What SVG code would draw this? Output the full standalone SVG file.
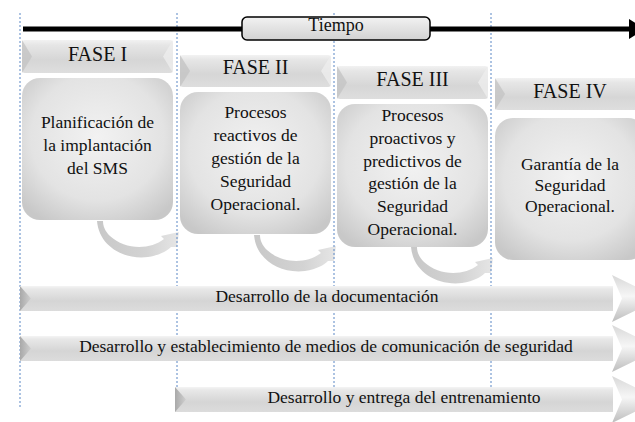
<svg xmlns="http://www.w3.org/2000/svg" width="635" height="422" viewBox="0 0 635 422" font-family="'Liberation Serif', 'DejaVu Serif', serif">
<defs>
<style>
text{font-family:'Liberation Serif','DejaVu Serif',serif;fill:#111;text-anchor:middle}
.h{font-size:20px}
.c{font-size:17.5px}
.b{font-size:17.5px}
.dash{stroke:#5b87c5;stroke-width:1;stroke-dasharray:2,2;fill:none}
.box{fill:url(#boxG)}
.hdr{fill:url(#hdrG)}
.bar{fill:url(#barG)}
.notch{fill:url(#notchG)}
.head{fill:url(#headG)}
.arc{fill:url(#arcG)}
</style>
<radialGradient id="boxG" cx="50%" cy="42%" r="68%">
<stop offset="0" stop-color="#f2f2f2"/>
<stop offset="0.65" stop-color="#e3e3e3"/>
<stop offset="1" stop-color="#c8c8c8"/>
</radialGradient>
<linearGradient id="hdrG" x1="0" y1="0" x2="0" y2="1">
<stop offset="0" stop-color="#f2f2f2"/>
<stop offset="0.15" stop-color="#e6e6e6"/>
<stop offset="0.6" stop-color="#d6d6d6"/>
<stop offset="1" stop-color="#dedede"/>
</linearGradient>
<linearGradient id="barG" x1="0" y1="0" x2="0" y2="1">
<stop offset="0" stop-color="#f4f4f4"/>
<stop offset="0.12" stop-color="#e8e8e8"/>
<stop offset="0.6" stop-color="#d5d5d5"/>
<stop offset="1" stop-color="#dcdcdc"/>
</linearGradient>
<linearGradient id="notchG" x1="0" y1="0" x2="1" y2="0">
<stop offset="0" stop-color="#a9a9a9"/>
<stop offset="1" stop-color="#cfcfcf"/>
</linearGradient>
<linearGradient id="headG" x1="0" y1="0" x2="0" y2="1">
<stop offset="0" stop-color="#d8d8d8"/>
<stop offset="0.45" stop-color="#f6f6f6"/>
<stop offset="1" stop-color="#bdbdbd"/>
</linearGradient>
<linearGradient id="tiempoG" x1="0" y1="0" x2="0" y2="1">
<stop offset="0" stop-color="#f2f2f2"/>
<stop offset="1" stop-color="#d2d2d2"/>
</linearGradient>
<linearGradient id="arcG" x1="0" y1="0" x2="1" y2="0">
<stop offset="0" stop-color="#c8c8c8"/>
<stop offset="0.6" stop-color="#d3d3d3"/>
<stop offset="1" stop-color="#e6e6e6"/>
</linearGradient>
<path id="curve" d="M97,221 C99,245 122,260 148,257 C160,255 167,251 171,247 L177,247 L179,232 L161,236 L164,239 C150,250 125,250 110,236 C105,231 103,226 103,221 Z"/>
</defs>

<g id="connectors">
<use href="#curve" class="arc"/>
<use href="#curve" class="arc" transform="translate(157,14)"/>
<use href="#curve" class="arc" transform="translate(314,26)"/>
</g>

<g id="guides">
<line class="dash" x1="20" y1="13" x2="20" y2="409"/>
<line class="dash" x1="177" y1="13" x2="177" y2="409"/>
<line class="dash" x1="334" y1="13" x2="334" y2="409"/>
<line class="dash" x1="491" y1="13" x2="491" y2="409"/>
</g>

<g id="timeline">
<line x1="23" y1="29" x2="632" y2="29" stroke="#000" stroke-width="5"/>
<polygon points="629,19 645,29 629,39" fill="#000"/>
<rect x="242" y="17" width="188" height="23" rx="5" fill="url(#tiempoG)" stroke="#000" stroke-width="1.5"/>
<text x="336" y="31" font-size="18">Tiempo</text>
</g>

<g id="fase1">
<rect class="hdr" x="22" y="40" width="151" height="33" rx="3"/>
<polygon points="22,40 32,56.5 22,73" fill="#c4c4c4" opacity="0.8"/>
<polygon points="173,40 163,56.5 173,73" fill="#ededed" opacity="0.8"/>
<text class="h" x="97.5" y="61">FASE I</text>
<rect class="box" x="22" y="78" width="151" height="142" rx="18"/>
<text class="c" x="97.5" y="128">Planificación de</text>
<text class="c" x="97.5" y="151">la implantación</text>
<text class="c" x="97.5" y="174">del SMS</text>
</g>

<g id="fase2">
<rect class="hdr" x="180" y="55" width="151" height="32" rx="3"/>
<polygon points="180,55 190,71 180,87" fill="#c4c4c4" opacity="0.8"/>
<polygon points="331,55 321,71 331,87" fill="#ededed" opacity="0.8"/>
<text class="h" x="255.5" y="74">FASE II</text>
<rect class="box" x="180" y="92" width="151" height="142" rx="18"/>
<text class="c" x="255.5" y="118">Procesos</text>
<text class="c" x="255.5" y="141">reactivos de</text>
<text class="c" x="255.5" y="164">gestión de la</text>
<text class="c" x="255.5" y="187">Seguridad</text>
<text class="c" x="255.5" y="210">Operacional.</text>
</g>

<g id="fase3">
<rect class="hdr" x="337" y="66" width="151" height="33" rx="3"/>
<polygon points="337,66 347,82.5 337,99" fill="#c4c4c4" opacity="0.8"/>
<polygon points="488,66 478,82.5 488,99" fill="#ededed" opacity="0.8"/>
<text class="h" x="412.5" y="86">FASE III</text>
<rect class="box" x="337" y="104" width="151" height="143" rx="18"/>
<text class="c" x="412.5" y="121">Procesos</text>
<text class="c" x="412.5" y="144">proactivos y</text>
<text class="c" x="412.5" y="166.5">predictivos de</text>
<text class="c" x="412.5" y="189">gestión de la</text>
<text class="c" x="412.5" y="212">Seguridad</text>
<text class="c" x="412.5" y="235">Operacional.</text>
</g>

<g id="fase4">
<rect class="hdr" x="495" y="78" width="151" height="32" rx="3"/>
<polygon points="495,78 505,94 495,110" fill="#c4c4c4" opacity="0.8"/>
<text class="h" x="570" y="98">FASE IV</text>
<rect class="box" x="495" y="118" width="151" height="142" rx="18"/>
<text class="c" x="570" y="170">Garantía de la</text>
<text class="c" x="570" y="191">Seguridad</text>
<text class="c" x="570" y="212">Operacional.</text>
</g>

<g id="bar-documentacion">
<rect class="bar" x="20" y="286" width="593" height="25"/>
<polygon class="notch" points="20,286 31,298.5 20,311"/>
<polygon class="head" points="612,275 660,298.5 612,322 622,298.5"/>
<text class="b" x="327" y="302">Desarrollo de la documentación</text>
</g>

<g id="bar-comunicacion">
<rect class="bar" x="20" y="336" width="593" height="25"/>
<polygon class="notch" points="20,336 31,348.5 20,361"/>
<polygon class="head" points="612,325 660,348.5 612,372 622,348.5"/>
<text class="b" x="326" y="352">Desarrollo y establecimiento de medios de comunicación de seguridad</text>
</g>

<g id="bar-entrenamiento">
<rect class="bar" x="175" y="387" width="438" height="25"/>
<polygon class="notch" points="175,387 186,399.5 175,412"/>
<polygon class="head" points="612,376 660,399.5 612,423 622,399.5"/>
<text class="b" x="404" y="403">Desarrollo y entrega del entrenamiento</text>
</g>
</svg>
